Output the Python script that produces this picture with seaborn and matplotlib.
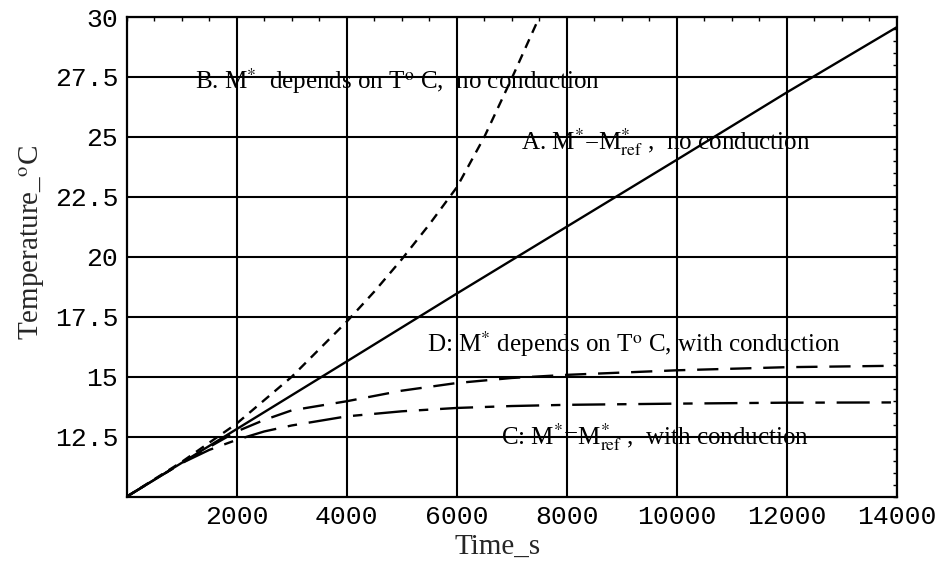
import numpy as np
import pandas as pd
import seaborn as sns
import matplotlib.pyplot as plt
from matplotlib.ticker import MultipleLocator

# values (time in s, temperature in deg C)
time_a = [0, 2000, 4000, 6000, 8000, 10000, 12000, 14000]
temp_a = [10.0, 12.82, 15.64, 18.47, 21.26, 24.05, 26.86, 29.58]

time_b = [0, 1000, 2000, 3000, 4000, 4500, 5000, 5500, 6000, 6500, 7000, 7500]
temp_b = [10.0, 11.45, 13.05, 15.0, 17.3, 18.55, 19.9, 21.35, 22.9, 25.0, 27.45, 30.0]

time_c = [0, 1000, 1500, 2000, 2500, 3000, 4000, 5000, 6000, 7000, 8000, 10000, 12000, 14000]
temp_c = [10.0, 11.4, 11.95, 12.37, 12.72, 12.97, 13.35, 13.56, 13.7, 13.78, 13.83, 13.88, 13.92, 13.93]

time_d = [0, 1000, 1500, 2000, 2500, 3000, 4000, 5000, 6000, 7000, 8000, 10000, 12000, 14000]
temp_d = [10.0, 11.4, 12.07, 12.72, 13.2, 13.6, 13.98, 14.42, 14.74, 14.95, 15.08, 15.27, 15.4, 15.46]

x_ticks = [2000, 4000, 6000, 8000, 10000, 12000, 14000]
y_ticks = [12.5, 15, 17.5, 20, 22.5, 25, 27.5, 30]
y_tick_labels = ['12.5', '15', '17.5', '20', '22.5', '25', '27.5', '30']

sns.set_style('white')
plt.rcParams['font.family'] = ['Liberation Serif', 'DejaVu Serif']
plt.rcParams['mathtext.fontset'] = 'stix'

fig = plt.figure(figsize=(9.37, 5.67), dpi=100)
ax = fig.add_axes([0.1352, 0.124, 0.8221, 0.846])

# grid first so the curves sit on top
ax.set_xticks(x_ticks)
ax.set_yticks(y_ticks)
ax.grid(True, color='black', linewidth=1.5)
ax.set_axisbelow(True)

curves = [
    (time_a, temp_a, (0, ())),
    (time_b, temp_b, (0, (4, 3))),
    (time_d, temp_d, (0, (9, 5))),
    (time_c, temp_c, (0, (14, 5, 4, 5))),
]
for tx, ty, ls in curves:
    df = pd.DataFrame({'t': tx, 'T': ty})
    sns.lineplot(data=df, x='t', y='T', ax=ax, color='black', linewidth=1.7,
                 linestyle=ls, sort=False)

ax.set_xlim(0, 14000)
ax.set_ylim(10, 30)
ax.set_yticklabels(y_tick_labels)
ax.xaxis.set_minor_locator(MultipleLocator(500))
ax.yaxis.set_minor_locator(MultipleLocator(0.5))
ax.tick_params(which='both', direction='in', top=True, right=True, color='black')
ax.tick_params(which='major', length=0, pad=6)
ax.tick_params(which='minor', length=3, width=1)
for lab in ax.get_xticklabels() + ax.get_yticklabels():
    lab.set_family('Liberation Mono')
    lab.set_fontsize(19)
    lab.set_color('black')
for sp in ax.spines.values():
    sp.set_color('black')
    sp.set_linewidth(1.6)

ax.set_xlabel('Time_s', fontsize=21)
ax.set_ylabel(r'Temperature_$^{\mathrm{o}}$C', fontsize=21)
ax.xaxis.set_label_coords(0.481, -0.078)
ax.yaxis.set_label_coords(-0.103, 0.53)

txt = dict(fontsize=18, va='center', ha='left', color='black')
ax.text(1250, 27.35, r'B. M$^{*}$  depends on T$^{\mathrm{o}}$ C,  no conduction', **txt)
ax.text(7170, 24.8, r'A. M$^{*}$=M$^{*}_{\mathrm{ref}}$ ,  no conduction', **txt)
ax.text(5450, 16.35, r'D: M$^{*}$ depends on T$^{\mathrm{o}}$ C, with conduction', **txt)
ax.text(6800, 12.5, r'C: M$^{*}$=M$^{*}_{\mathrm{ref}}$ ,  with conduction', **txt)

fig.savefig('out.png', dpi=100)
